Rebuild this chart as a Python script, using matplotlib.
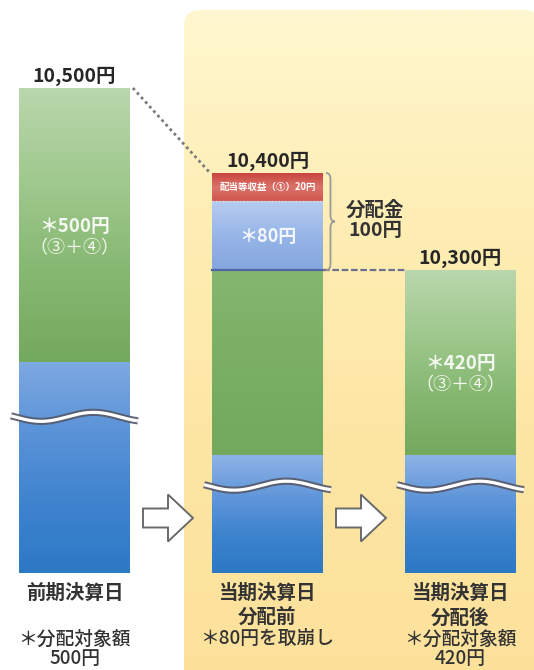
import numpy as np
import matplotlib
matplotlib.use('Agg')
import matplotlib.pyplot as plt
from matplotlib.patches import FancyBboxPatch, Polygon, PathPatch
from matplotlib.path import Path
from matplotlib.colors import LinearSegmentedColormap

plt.rcParams['font.family'] = ['Noto Sans CJK JP', 'DejaVu Sans']

# ---------------- data ----------------
stages = ['前期決算日', '当期決算日\n分配前', '当期決算日\n分配後']
notes = ['＊分配対象額\n500円', '＊80円を取崩し', '＊分配対象額\n420円']
nav = [10500, 10400, 10300]
nav_labels = ['10,500円', '10,400円', '10,300円']
reserve = [500, 420, 420]                      # 分配対象額（③＋④）
reserve_labels = ['＊500円\n（③＋④）', '', '＊420円\n（③＋④）']
drawdown = [0, 80, 0]                          # 取崩し
drawdown_labels = ['', '＊80円', '']
income = [0, 20, 0]                            # 配当等収益①
income_labels = ['', '配当等収益（①）20円', '']
distribution_label = '分配金\n100円'

# ---------------- layout (schematic broken axis) ----------------
W, H = 534, 670
SCALE_YEN = [-800, 0, 9880, 10000, 10300, 10380, 10400, 10500, 10600]
SCALE_PX = [670, 573, 455, 362, 270, 201, 173, 88, 0]
BAR_W = 0.575
X_LIM = (-74.5 / 193, (534 - 74.5) / 193)

yk = np.array(SCALE_YEN, float)
pk = -np.array(SCALE_PX, float)


def fwd(v):
    return np.interp(v, yk, pk)


def inv(u):
    return np.interp(u, pk, yk)


def mid_value(a, b):
    return float(inv((fwd(a) + fwd(b)) / 2))


fig = plt.figure(figsize=(W / 100, H / 100), dpi=100)
fig.patch.set_facecolor('white')

bg = fig.add_axes([0, 0, 1, 1], zorder=0)
bg.set_xlim(0, W); bg.set_ylim(H, 0); bg.axis('off')
ga = fig.add_axes([0, 0, 1, 1], zorder=0.5)
ga.set_xlim(0, W); ga.set_ylim(H, 0); ga.axis('off')
ax = fig.add_axes([0, 0, 1, 1], zorder=1)
ax.set_yscale('function', functions=(fwd, inv))
ax.set_xlim(*X_LIM); ax.set_ylim(SCALE_YEN[0], SCALE_YEN[-1]); ax.axis('off')
ov = fig.add_axes([0, 0, 1, 1], zorder=2)
ov.set_xlim(0, W); ov.set_ylim(H, 0); ov.axis('off')


def to_px(xv, yv):
    dx, dy = ax.transData.transform((xv, yv))
    return dx, H - dy


# yellow panel
panel = FancyBboxPatch((184, 10), 356, 700, boxstyle='round,pad=0,rounding_size=16',
                       fc='none', ec='none')
bg.add_patch(panel)
ycm = LinearSegmentedColormap.from_list('yl', ['#FFF7CF', '#FEEDB2', '#FDE5A2', '#FCE19A'])
im = bg.imshow(np.linspace(0, 1, 256)[:, None], extent=(184, 540, 710, 10), origin='upper',
               cmap=ycm, aspect='auto', interpolation='bilinear')
im.set_clip_path(panel)
bg.set_xlim(0, W); bg.set_ylim(H, 0)


def grad_fill(patch, colors):
    """Paint a bar patch with a vertical gradient (top -> bottom) in screen space."""
    x0, y0 = patch.get_x(), patch.get_y()
    x1, y1 = x0 + patch.get_width(), y0 + patch.get_height()
    lx, bot = to_px(x0, y0)
    rx, top = to_px(x1, y1)
    cm = LinearSegmentedColormap.from_list('g', colors)
    ga.imshow(np.linspace(0, 1, 256)[:, None], extent=(lx, rx, bot, top), origin='upper',
              cmap=cm, aspect='auto', interpolation='bilinear')


x = np.arange(len(nav))
nav_a = np.array(nav, float)
res_a = np.array(reserve, float)
dd_a = np.array(drawdown, float)
inc_a = np.array(income, float)
base = nav_a - res_a - dd_a - inc_a

BASE_COLORS = [['#7EA9E2', '#5A93D8', '#3F83CE', '#2C79C6'],
               ['#8DB3E7', '#6398DA', '#3E83CE', '#2B78C5'],
               ['#8DB3E7', '#6398DA', '#3E83CE', '#2B78C5']]
RESERVE_COLORS = [['#BAD7AD', '#A0C98E', '#86B872', '#73A95D'],
                  ['#84B76F', '#7DB168', '#77AD62', '#72A95C'],
                  ['#BAD7AD', '#A0C98E', '#86B872', '#73A95D']]
DD_COLORS = ['#B6CCF0', '#97B5E7', '#84A6DF']
INC_COLORS = ['#C9443F', '#DA736A', '#D0564F']

layers = [
    (base, np.zeros(3), lambda i: BASE_COLORS[i]),
    (res_a, base, lambda i: RESERVE_COLORS[i]),
    (dd_a, base + res_a, lambda i: DD_COLORS),
    (inc_a, base + res_a + dd_a, lambda i: INC_COLORS),
]
for k, (h, b, cf) in enumerate(layers):
    bars = ax.bar(x, h, bottom=b, width=BAR_W, color='none', edgecolor='none', zorder=2 + k)
    for i, p in enumerate(bars.patches):
        if h[i] > 0:
            grad_fill(p, cf(i))
ax.set_xlim(*X_LIM); ax.set_ylim(SCALE_YEN[0], SCALE_YEN[-1])
ga.set_xlim(0, W); ga.set_ylim(H, 0)

TXT = '#333333'
# value labels above bars
for i in range(3):
    ax.annotate(nav_labels[i], (x[i], nav[i]), xytext=(0, 6), textcoords='offset pixels',
                ha='center', va='baseline', fontsize=14, fontweight='bold', color='#262626', zorder=10)

# inner labels
for i in range(3):
    if reserve_labels[i]:
        top = base[i] + res_a[i]
        ym = mid_value(base[i], top)
        l1, l2 = reserve_labels[i].split('\n')
        ax.annotate(l1, (x[i], ym), xytext=(0, -1), textcoords='offset pixels', ha='center',
                    va='center', fontsize=13.5, fontweight='bold', color='#F4F8F0', zorder=10)
        ax.annotate(l2, (x[i], ym), xytext=(0, -23), textcoords='offset pixels', ha='center',
                    va='center', fontsize=13, color='#F4F8F0', zorder=10)
    if drawdown_labels[i]:
        b0 = base[i] + res_a[i]
        ax.annotate(drawdown_labels[i], (x[i], mid_value(b0, b0 + dd_a[i])), xytext=(0, -1),
                    textcoords='offset pixels', ha='center', va='center', fontsize=13,
                    fontweight='bold', color='#F4F7FD', zorder=10)
    if income_labels[i]:
        b0 = base[i] + res_a[i] + dd_a[i]
        ax.annotate(income_labels[i], (x[i], mid_value(b0, b0 + inc_a[i])), ha='center',
                    va='center', fontsize=6.8, fontweight='bold', color='white', zorder=10)
        ax.plot([x[i] - BAR_W / 2, x[i] + BAR_W / 2], [b0, b0], color='#F3D3D0',
                lw=1.0, ls=(0, (1, 1.5)), zorder=9)

# connectors
ax.plot([x[0] + BAR_W / 2 + 0.015, x[1] - BAR_W / 2 - 0.01], [nav[0], nav[1]], color='#7a7a7a',
        lw=2.0, ls=(0, (1, 1.2)), zorder=8)
after = nav[2]
ax.plot([x[1] - BAR_W / 2, x[1] + BAR_W / 2], [after, after], color='#4F67A3', lw=1.6, zorder=8)
ax.plot([x[1] + BAR_W / 2, x[2] - BAR_W / 2], [after, after], color='#6F6F90', lw=1.6,
        ls=(0, (3, 1.2)), zorder=8)

# brace and distribution label
bx, bt = to_px(x[1] + BAR_W / 2, nav[1])
_, bb = to_px(x[1] + BAR_W / 2, nav[2])
x0 = bx + 3; wb = 9; hh = wb / 2; r = 6; ym = (bt + bb) / 2
verts = [(x0, bt), (x0 + hh, bt), (x0 + hh, bt + r), (x0 + hh, ym - r), (x0 + hh, ym), (x0 + wb, ym),
         (x0 + hh, ym), (x0 + hh, ym + r), (x0 + hh, bb - r), (x0 + hh, bb), (x0, bb)]
codes = [Path.MOVETO, Path.CURVE3, Path.CURVE3, Path.LINETO, Path.CURVE3, Path.CURVE3,
         Path.CURVE3, Path.CURVE3, Path.LINETO, Path.CURVE3, Path.CURVE3]
ov.add_patch(PathPatch(Path(verts, codes), fc='none', ec='#9a9a9a', lw=1.3))
d1, d2 = distribution_label.split('\n')
ov.text(bx + 52, ym - 11, d1, ha='center', va='center', fontsize=14, fontweight='bold', color=TXT)
ov.text(bx + 52, ym + 9, d2, ha='center', va='center', fontsize=14, fontweight='bold', color=TXT)

# wavy break marks
for i in range(3):
    lx, btop = to_px(x[i] - BAR_W / 2, base[i])
    rx, bbot = to_px(x[i] + BAR_W / 2, 0)
    yc = btop + 0.26 * (bbot - btop)
    xs = np.linspace(lx - 8, rx + 8, 200)
    ys = yc + 4.5 * np.cos(2 * np.pi * (xs - (lx - 8) - 30) / 105)
    ov.plot(xs, ys, color='#56596a', lw=5.2, solid_capstyle='butt', alpha=0.9)
    ov.plot(xs, ys, color='white', lw=2.3, solid_capstyle='butt')

# arrows between stages
for i in range(2):
    rx, _ = to_px(x[i] + BAR_W / 2, 0)
    lx, _ = to_px(x[i + 1] - BAR_W / 2, 0)
    cx = (rx + lx) / 2 - 3
    cy = 518
    a0, a1, am = cx - 25, cx + 25, cx
    pts = [(a0, cy - 9.5), (am, cy - 9.5), (am, cy - 23.5), (a1, cy), (am, cy + 23.5),
           (am, cy + 9.5), (a0, cy + 9.5)]
    ov.add_patch(Polygon(pts, closed=True, fc='white', ec='#6a6a6a', lw=1.4, joinstyle='miter'))

# category labels and notes under bars
for i in range(3):
    for k, line in enumerate(stages[i].split('\n')):
        ax.annotate(line, (x[i], 0), xytext=(0, -(20 + 25 * k)), textcoords='offset pixels',
                    ha='center', va='center', fontsize=14, fontweight='bold', color=TXT)
    for k, line in enumerate(notes[i].split('\n')):
        ax.annotate(line, (x[i], 0), xytext=(0, -(66 + 20 * k)), textcoords='offset pixels',
                    ha='center', va='center', fontsize=13.5, fontweight='medium', color=TXT)

fig.savefig('out.png', dpi=100, facecolor='white')
